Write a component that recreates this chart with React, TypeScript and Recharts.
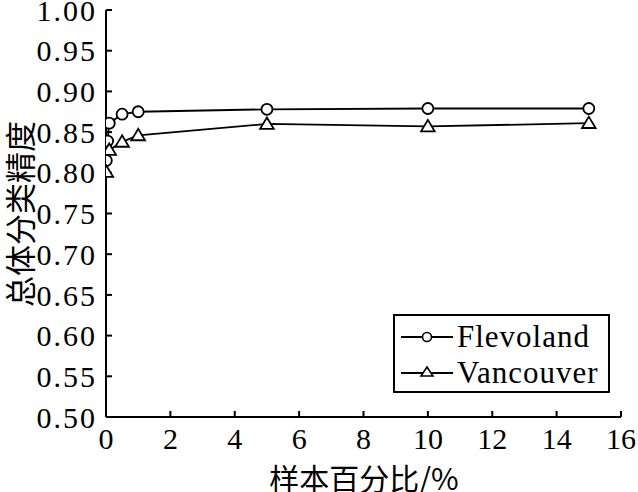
import React from 'react';
import { LineChart, Line, XAxis, YAxis } from 'recharts';

const flevolandX = [0.01, 0.05, 0.1, 0.5, 1, 5, 10, 15];
const flevolandY = [0.815, 0.839, 0.861, 0.872, 0.875, 0.878, 0.879, 0.879];
const vancouverX = [0.01, 0.1, 0.5, 1, 5, 10, 15];
const vancouverY = [0.801, 0.828, 0.838, 0.846, 0.86, 0.857, 0.861];
const xTicks = [0, 2, 4, 6, 8, 10, 12, 14, 16];
const yTicks = [0.5, 0.55, 0.6, 0.65, 0.7, 0.75, 0.8, 0.85, 0.9, 0.95, 1.0];
const seriesNames = ['Flevoland', 'Vancouver'];
const xLabel = '样本百分比/%';
const yLabel = '总体分类精度';

const flevoland = flevolandX.map((x, i) => ({ x, y: flevolandY[i] }));
const vancouver = vancouverX.map((x, i) => ({ x, y: vancouverY[i] }));

const SERIF = '"Liberation Serif", "Times New Roman", serif';
const CJK = '"Noto Sans CJK SC", sans-serif';

const CircleDot = (props: any) => {
  const { cx, cy } = props;
  if (cx == null || cy == null) return null;
  return <circle cx={cx} cy={cy} r={5.5} fill="#fff" stroke="#000" strokeWidth={1.8} />;
};

const TriDot = (props: any) => {
  const { cx, cy } = props;
  if (cx == null || cy == null) return null;
  const s = 6.5;
  const pts = `${cx},${cy - s} ${cx - s * 1.05},${cy + s * 0.75} ${cx + s * 1.05},${cy + s * 0.75}`;
  return <polygon points={pts} fill="#fff" stroke="#000" strokeWidth={1.8} />;
};

const YLabel = () => (
  <text
    x={18}
    y={214}
    transform="rotate(-90 18 214)"
    textAnchor="middle"
    dominantBaseline="central"
    fill="#000"
    fontSize={31}
    fontFamily={CJK}
  >
    {yLabel}
  </text>
);

const XLabel = () => (
  <text x={364} y={477} textAnchor="middle" dominantBaseline="central" fill="#000" fontSize={30} fontFamily={CJK}>
    {xLabel}
  </text>
);

const LegendBox = () => (
  <div
    style={{
      position: 'absolute',
      left: 393,
      top: 314,
      border: '2px solid #000',
      background: '#fff',
      width: 213,
      height: 75,
      fontFamily: SERIF,
      fontSize: 31,
      lineHeight: '36px',
      color: '#000',
    }}
  >
    {seriesNames.map((name, i) => (
      <div key={name} style={{ display: 'flex', alignItems: 'center', height: 36, marginTop: i === 0 ? 3 : 0 }}>
        <svg width={56} height={20} style={{ marginLeft: 6 }}>
          <line x1={0} y1={10} x2={52} y2={10} stroke="#000" strokeWidth={1.8} />
          {i === 0 ? (
            <circle cx={26} cy={10} r={4.5} fill="#fff" stroke="#000" strokeWidth={1.6} />
          ) : (
            <polygon points="26,4 20,13 32,13" fill="#fff" stroke="#000" strokeWidth={1.6} />
          )}
        </svg>
        <span style={{ letterSpacing: 1 }}>{name}</span>
      </div>
    ))}
  </div>
);

export default function App() {
  return (
    <div style={{ position: 'absolute', left: 0, top: 0, width: 638, height: 492, background: '#fff' }}>
      <LineChart width={638} height={492} margin={{ top: 10, right: 17, bottom: 0, left: 0 }}>
        <XAxis
          xAxisId="b"
          type="number"
          dataKey="x"
          domain={[0, 16]}
          ticks={xTicks}
          interval={0}
          height={75}
          tickSize={-6}
          tickMargin={17}
          stroke="#000"
          strokeWidth={2}
          tick={{ fill: '#000', fontSize: 30, fontFamily: SERIF }}
          label={<XLabel />}
          allowDataOverflow
        />
        <XAxis
          xAxisId="t"
          orientation="top"
          type="number"
          dataKey="x"
          domain={[0, 16]}
          ticks={xTicks}
          interval={0}
          height={0}
          tickSize={-6}
          tick={false}
          stroke="#000"
          strokeWidth={2}
        />
        <YAxis
          yAxisId="l"
          type="number"
          domain={[0.5, 1]}
          ticks={yTicks}
          interval={0}
          width={106}
          tickSize={-6}
          tickMargin={15}
          stroke="#000"
          strokeWidth={2}
          tickFormatter={(v: number) => v.toFixed(2)}
          tick={{ fill: '#000', fontSize: 30, fontFamily: SERIF, letterSpacing: 2 }}
          label={<YLabel />}
          allowDataOverflow
        />
        <YAxis
          yAxisId="r"
          orientation="right"
          type="number"
          domain={[0.5, 1]}
          ticks={yTicks}
          interval={0}
          width={0}
          tickSize={-6}
          tick={false}
          stroke="#000"
          strokeWidth={2}
        />
        <Line
          xAxisId="b"
          yAxisId="l"
          data={flevoland}
          dataKey="y"
          name={seriesNames[0]}
          stroke="#000"
          strokeWidth={1.8}
          dot={<CircleDot />}
          isAnimationActive={false}
        />
        <Line
          xAxisId="b"
          yAxisId="l"
          data={vancouver}
          dataKey="y"
          name={seriesNames[1]}
          stroke="#000"
          strokeWidth={1.8}
          dot={<TriDot />}
          isAnimationActive={false}
        />
      </LineChart>
      <LegendBox />
    </div>
  );
}
